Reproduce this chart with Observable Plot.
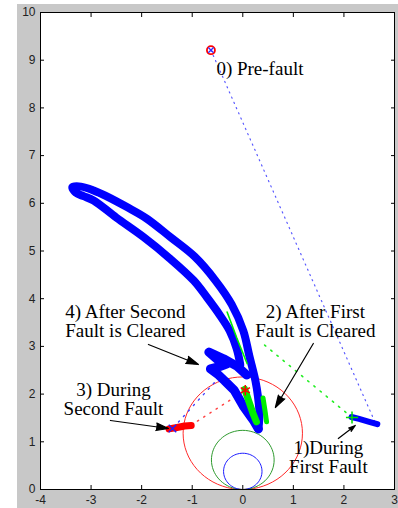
<!DOCTYPE html>
<html><head><meta charset="utf-8">
<script src="https://cdn.jsdelivr.net/npm/d3@7"></script>
<script src="https://cdn.jsdelivr.net/npm/@observablehq/plot@0.6"></script>
<style>
html,body{margin:0;padding:0;background:#fff;}
#chart svg{display:block;}
</style></head><body><div id="chart"></div>
<script>
// ---- axes ----
const xTicks = [-4, -3, -2, -1, 0, 1, 2, 3];
const yTicks = [0, 1, 2, 3, 4, 5, 6, 7, 8, 9, 10];

// ---- relay characteristic circles (centre on the R=0 axis) ----
const circleCenterY = [1.18, 0.62, 0.38];
const circleRadius = [1.18, 0.62, 0.38];
const circleName = ["zone3", "zone2", "zone1"];

// ---- 0) pre-fault operating point ----
const preFaultX = [-0.63];
const preFaultY = [9.21];

// swing from pre-fault to first fault (blue dotted)
const swing0X = [-0.63, 2.62];
const swing0Y = [9.21, 1.40];

// ---- 1) during first fault (blue cluster) ----
const firstFaultX = [2.15, 2.30, 2.50, 2.66];
const firstFaultY = [1.52, 1.48, 1.42, 1.37];
const firstFaultStartX = [2.16];
const firstFaultStartY = [1.51];

// swing after first fault cleared (green dotted)
const swing1X = [2.16, 0.35];
const swing1Y = [1.51, 3.10];

// ---- 2) after first fault is cleared (green) ----
const green1X = [0.04, 0.12, 0.20, 0.27];
const green1Y = [2.10, 1.85, 1.60, 1.42];
const green2X = [0.40, 0.44, 0.47];
const green2Y = [1.92, 1.65, 1.42];
const green3X = [-0.31, -0.12, 0.085];
const green3Y = [3.72, 3.18, 2.64];

// ---- 3) during second fault (red cluster) ----
const secondFaultX = [-1.46, -1.30, -1.15, -1.02];
const secondFaultY = [1.27, 1.30, 1.33, 1.34];
const secondFaultStartX = [-1.39];
const secondFaultStartY = [1.28];
const redStarX = [0.05];
const redStarY = [2.08];
const swing2X = [-1.02, 0.05];
const swing2Y = [1.35, 2.08];
const swing3X = [-1.37, -0.40];
const swing3Y = [1.30, 2.43];

// ---- 4) after second fault is cleared (blue power swing) ----
const bigLoopX = [0.31, 0.33, 0.30, 0.25, 0.13, 0.01, -0.22, -0.54, -0.95, -1.43, -1.90, -2.29, -2.70, -2.95, -3.20, -3.37,
                  -3.30, -3.15, -2.95, -2.50, -1.96, -1.45, -0.97, -0.71, -0.45, -0.26, -0.12, -0.05];
const bigLoopY = [1.28, 1.60, 1.95, 2.28, 2.80, 3.33, 3.88, 4.38, 4.88, 5.29, 5.68, 5.92, 6.15, 6.27, 6.35, 6.34,
                  6.22, 6.15, 6.06, 5.70, 5.29, 4.85, 4.38, 4.03, 3.65, 3.33, 2.95, 2.62];
const smallLoopX = [0.08, -0.11, -0.38, -0.67, -0.50, -0.32, -0.45, -0.64, -0.50, -0.36, -0.17, 0.02, 0.21, 0.31];
const smallLoopY = [2.40, 2.58, 2.74, 2.88, 2.72, 2.63, 2.58, 2.53, 2.42, 2.28, 2.08, 1.73, 1.45, 1.27];

// ---- annotations ----
const labelText = ["0) Pre-fault", "2) After First\nFault is Cleared", "4) After Second\nFault is Cleared",
                   "3) During\nSecond Fault", "1)During\nFirst Fault"];
const labelX = [-0.522, 1.435, -2.32, -2.557, 1.692];
const labelY = [8.807, 3.514, 3.514, 1.895, 0.679];
const arrowX1 = [1.395, -1.866, -2.617, 1.889];
const arrowY1 = [3.061, 3.040, 1.447, 1.069];
const arrowX2 = [0.644, -0.877, -1.470, 2.225];
const arrowY2 = [1.719, 2.620, 1.279, 1.342];

// ---- build tables ----
const pts = (xs, ys) => xs.map((x, i) => ({x, y: ys[i]}));
const circles = circleName.flatMap((name, k) =>
  d3.range(0, 73).map(j => {
    const t = j / 72 * 2 * Math.PI;
    return {name, x: circleRadius[k] * Math.sin(t), y: circleCenterY[k] - circleRadius[k] * Math.cos(t)};
  }));
const labels = labelText.map((text, i) => ({text, x: labelX[i], y: labelY[i]}));
const arrows = arrowX1.map((x1, i) => ({x1, y1: arrowY1[i], x2: arrowX2[i], y2: arrowY2[i]}));

const serif = "'Liberation Serif', 'Times New Roman', serif";
const intFmt = d => String(d);

const chart = Plot.plot({
  width: 398,
  height: 508,
  marginLeft: 40,
  marginRight: 4,
  marginTop: 12,
  marginBottom: 19,
  style: {
    background: "linear-gradient(to right, #fff 17px, transparent 17px), linear-gradient(to bottom, #fff 4px, #c8c8c8 4px)",
    fontFamily: "'Liberation Sans', Arial, sans-serif",
    overflow: "visible"
  },
  x: {domain: [-4, 3]},
  y: {domain: [0, 10]},
  marks: [
    Plot.frame({fill: "white", stroke: null}),
    // circles
    Plot.line(circles, {x: "x", y: "y", z: "name",
      stroke: d => d.name, strokeWidth: 1}),
    // dotted swings
    Plot.line(pts(swing0X, swing0Y), {x: "x", y: "y", stroke: "#5a5aff", strokeWidth: 1.2, strokeDasharray: "1.2,4.5"}),
    Plot.line(pts(swing1X, swing1Y), {x: "x", y: "y", stroke: "#22ee22", strokeWidth: 1.6, strokeDasharray: "1.5,6.5"}),
    Plot.line(pts(swing2X, swing2Y), {x: "x", y: "y", stroke: "#ff4040", strokeWidth: 1.4, strokeDasharray: "1.4,6"}),
    Plot.line(pts(swing3X, swing3Y), {x: "x", y: "y", stroke: "#4040ff", strokeWidth: 1.4, strokeDasharray: "1.4,6"}),
    // power swing after second fault
    Plot.line(pts(bigLoopX, bigLoopY), {x: "x", y: "y", stroke: "#0000ff", strokeWidth: 8,
      strokeLinejoin: "round", strokeLinecap: "round", curve: "catmull-rom"}),
    Plot.line(pts(smallLoopX, smallLoopY), {x: "x", y: "y", stroke: "#0000ff", strokeWidth: 9,
      strokeLinejoin: "round", strokeLinecap: "round"}),
    // after first fault cleared
    Plot.line(pts(green1X, green1Y), {x: "x", y: "y", stroke: "#00ee00", strokeWidth: 7, strokeLinecap: "round"}),
    Plot.line(pts(green2X, green2Y), {x: "x", y: "y", stroke: "#00ee00", strokeWidth: 5, strokeLinecap: "round"}),
    Plot.line(pts(green3X, green3Y), {x: "x", y: "y", stroke: "#00ee00", strokeWidth: 1.6}),
    // first fault
    Plot.line(pts(firstFaultX, firstFaultY), {x: "x", y: "y", stroke: "#0000ff", strokeWidth: 6,
      strokeLinecap: "round"}),
    Plot.dot(pts(firstFaultStartX, firstFaultStartY), {x: "x", y: "y", symbol: "plus", r: 4, stroke: "#00dd00", strokeWidth: 1.5}),
    // second fault
    Plot.line(pts(secondFaultX, secondFaultY), {x: "x", y: "y", stroke: "#ff0000", strokeWidth: 7,
      strokeLinecap: "round"}),
    Plot.dot(pts(secondFaultStartX, secondFaultStartY), {x: "x", y: "y", symbol: "times", r: 3.5, stroke: "#2020ff", strokeWidth: 1.4}),
    Plot.dot(pts(redStarX, redStarY), {x: "x", y: "y", symbol: "asterisk", r: 5, stroke: "#ff0000", strokeWidth: 1.5}),
    // pre-fault
    Plot.dot(pts(preFaultX, preFaultY), {x: "x", y: "y", r: 4, stroke: "#ff0000", strokeWidth: 1.8}),
    Plot.dot(pts(preFaultX, preFaultY), {x: "x", y: "y", symbol: "times", r: 2.5, stroke: "#3030ff", strokeWidth: 1.3}),
    // annotations
    Plot.arrow(arrows, {x1: "x1", y1: "y1", x2: "x2", y2: "y2", stroke: "black", fill: "black",
      strokeWidth: 1.2, headLength: 16, headAngle: 34}),
    Plot.text(labels.slice(0, 1), {x: "x", y: "y", text: "text", textAnchor: "start", fontSize: 19,
      fontFamily: serif, fill: "black", lineAnchor: "middle"}),
    Plot.text(labels.slice(1, 3), {x: "x", y: "y", text: "text", fontSize: 19, lineHeight: 1.0,
      fontFamily: serif, fill: "black", lineAnchor: "middle"}),
    Plot.text(labels.slice(3), {x: "x", y: "y", text: "text", fontSize: 19, lineHeight: 1.05,
      fontFamily: serif, fill: "black", lineAnchor: "middle"}),
    // axes (inward ticks on all four sides)
    Plot.axisX({ticks: xTicks, anchor: "bottom", tickSize: -4, tickPadding: 9.5, fontSize: 12, label: null,
      fill: "#222", tickFormat: intFmt}),
    Plot.axisX({ticks: xTicks, anchor: "top", tickSize: -4, tickFormat: () => "", label: null}),
    Plot.axisY({ticks: yTicks, anchor: "left", tickSize: -4, tickPadding: 9, fontSize: 12, label: null,
      fill: "#222", tickFormat: intFmt}),
    Plot.axisY({ticks: yTicks, anchor: "right", tickSize: -4, tickFormat: () => "", label: null}),
    Plot.frame({stroke: "black", strokeWidth: 1})
  ],
  color: {domain: circleName, range: ["#ff2a2a", "#2e9a2e", "#1a1aff"]}
});
document.getElementById("chart").appendChild(chart);
</script>
</body></html>
